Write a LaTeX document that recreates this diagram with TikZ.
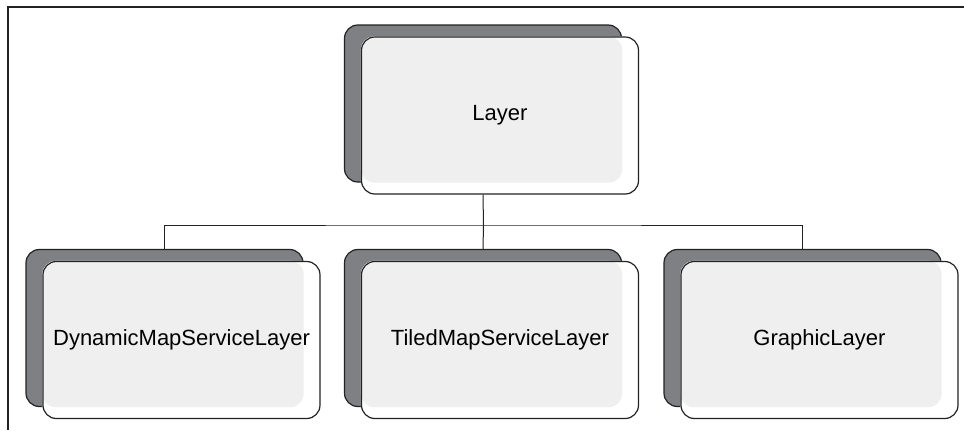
\documentclass[tikz,border=0pt]{standalone}
\usepackage{fontspec}
\setmainfont{Liberation Sans}
\usepackage{xcolor}
\usetikzlibrary{positioning,backgrounds}

\definecolor{shadowgray}{HTML}{7F8084}
\definecolor{panegray}{HTML}{EEEFEE}
\definecolor{edgegray}{HTML}{222222}

\tikzset{
    frontbox/.style={rectangle, rounded corners=10pt, draw=edgegray, line width=0.9pt,
        minimum width=207.75pt, minimum height=117.75pt, inner sep=0pt,
        font=\fontsize{16.5}{20}\selectfont},
    backbox/.style={rectangle, rounded corners=10pt, draw=edgegray, line width=0.9pt,
        fill=shadowgray, minimum width=207.75pt, minimum height=117.75pt, inner sep=0pt},
    link/.style={draw=edgegray, line width=0.75pt}
}

\begin{document}
\begin{tikzpicture}[x=0.75pt, y=-0.75pt]
    \useasboundingbox (0,0) rectangle (964,430);

    % Frame
    \draw[edgegray, line width=1.3pt] (8,430) -- (8,7) -- (964,7);

    % Boxes
    \foreach \nm/\x/\y/\txt in {layer/500/115.5/Layer,
                                dynamic/181.5/340/DynamicMapServiceLayer,
                                tiled/500/340/TiledMapServiceLayer,
                                graphic/819.5/340/GraphicLayer} {
        \node[frontbox] (\nm) at (\x,\y) {\txt};
        \begin{pgfonlayer}{background}
            \node[backbox] (\nm sh) at (\x-17,\y-12) {};
            \fill[white, rounded corners=10pt] (\nm.north west) rectangle (\nm.south east);
            \fill[panegray, rounded corners=10pt] (\nm.north west) rectangle (\nm sh.south east);
        \end{pgfonlayer}
    }

    % Tree lines
    \coordinate (split) at (483.5,225);
    \draw[link] (layersh.south |- layer.south) -- (split);
    \draw[link] (dynamicsh.north) |- (split) -| (graphicsh.north);
    \draw[link] (split) -- (tiledsh.north);
\end{tikzpicture}
\end{document}
